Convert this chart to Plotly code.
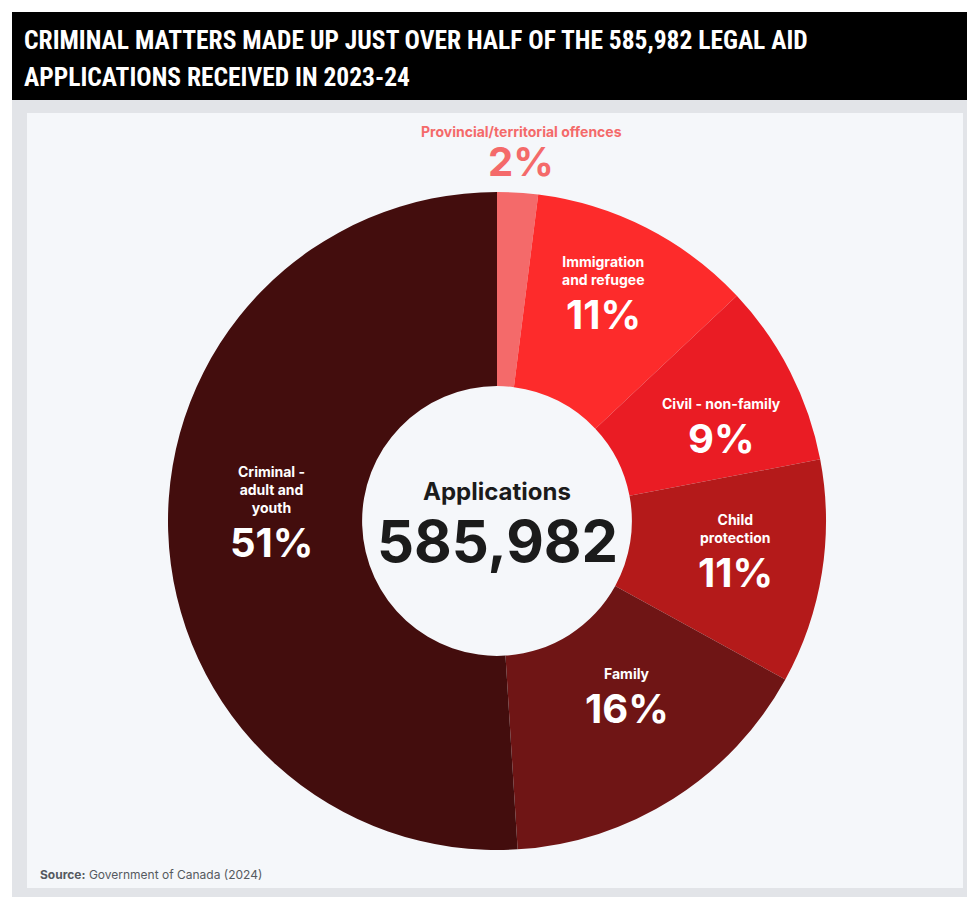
import math
import plotly.graph_objects as go

# ---- data ----
categories = ["Provincial/territorial offences", "Immigration and refugee", "Civil - non-family",
              "Child protection", "Family", "Criminal - adult and youth"]
label_lines = ["Provincial/territorial offences", "Immigration<br>and refugee", "Civil - non-family",
               "Child<br>protection", "Family", "Criminal -<br>adult and<br>youth"]
shares = [2, 11, 9, 11, 16, 51]
total_applications = 585982
title_lines = ["CRIMINAL MATTERS MADE UP JUST OVER HALF OF THE 585,982 LEGAL AID",
               "APPLICATIONS RECEIVED IN 2023-24"]
source_label = "Source:"
source_text = "Government of Canada (2024)"

# ---- styling ----
colors = ["#f46a6a", "#fd2b2b", "#ea1c24", "#b41a1a", "#6f1515", "#430d0d"]
W, H = 967, 897
CX, CY, R = 497, 521, 329
HOLE = 0.41
label_r = [None, 253, 248, 240, 210, 226]
label_da = [0, -2, 2, -2, -6, 2]

LABEL_FONT = "Inter, Roboto, sans-serif"
TITLE_FONT = "Roboto Condensed, Liberation Sans Narrow, sans-serif"


def px(x):
    return x / W


def py(y):
    return 1 - y / H


fig = go.Figure()
fig.add_trace(go.Pie(
    labels=categories,
    values=shares,
    hole=HOLE,
    sort=False,
    direction="clockwise",
    rotation=0,
    marker=dict(colors=colors, line=dict(width=0)),
    textinfo="none",
    hoverinfo="skip",
    showlegend=False,
    domain=dict(x=[px(CX - R), px(CX + R)], y=[py(CY + R), py(CY - R)]),
))

annotations = []
cum = 0
for i, (lab, v) in enumerate(zip(label_lines, shares)):
    mid = (cum + v / 2) / sum(shares) * 360
    cum += v
    if label_r[i] is None:
        continue
    ang = math.radians(mid + label_da[i])
    x = CX + label_r[i] * math.sin(ang)
    y = CY - label_r[i] * math.cos(ang)
    annotations.append(dict(x=px(x), y=py(y - 2), xref="paper", yref="paper",
                            text="<b>%s</b>" % lab, showarrow=False,
                            xanchor="center", yanchor="bottom",
                            font=dict(family=LABEL_FONT, size=14, color="white")))
    annotations.append(dict(x=px(x), y=py(y - 4), xref="paper", yref="paper",
                            text="<b>%d%%</b>" % v, showarrow=False,
                            xanchor="center", yanchor="top",
                            font=dict(family=LABEL_FONT, size=40, color="white")))

annotations.append(dict(x=px(521), y=py(131), xref="paper", yref="paper",
                        text="<b>%s</b>" % label_lines[0], showarrow=False,
                        xanchor="center", yanchor="middle",
                        font=dict(family=LABEL_FONT, size=14, color=colors[0])))
annotations.append(dict(x=px(521), y=py(161), xref="paper", yref="paper",
                        text="<b>%d%%</b>" % shares[0], showarrow=False,
                        xanchor="center", yanchor="middle",
                        font=dict(family=LABEL_FONT, size=40, color=colors[0])))

annotations.append(dict(x=px(CX), y=py(491), xref="paper", yref="paper",
                        text="<b>Applications</b>", showarrow=False,
                        xanchor="center", yanchor="middle",
                        font=dict(family=LABEL_FONT, size=24, color="#1b1b1b")))
annotations.append(dict(x=px(CX), y=py(541), xref="paper", yref="paper",
                        text="<b>{:,}</b>".format(total_applications), showarrow=False,
                        xanchor="center", yanchor="middle",
                        font=dict(family=LABEL_FONT, size=58, color="#1b1b1b")))

for j, t in enumerate(title_lines):
    annotations.append(dict(x=px(22), y=py(40 + 37 * j), xref="paper", yref="paper",
                            text="<b>%s</b>" % t, showarrow=False,
                            xanchor="left", yanchor="middle",
                            font=dict(family=TITLE_FONT, size=25.5, color="white")))

annotations.append(dict(x=px(38), y=py(874), xref="paper", yref="paper",
                        text="<b>%s</b> %s" % (source_label, source_text), showarrow=False,
                        xanchor="left", yanchor="middle",
                        font=dict(family=LABEL_FONT, size=12, color="#555a60")))

shapes = [
    dict(type="rect", xref="paper", yref="paper", x0=px(12), x1=1, y0=py(897), y1=py(100),
         fillcolor="#e2e4e8", line=dict(width=0), layer="below"),
    dict(type="rect", xref="paper", yref="paper", x0=px(27), x1=px(963), y0=py(888), y1=py(113),
         fillcolor="#f5f7fa", line=dict(width=0), layer="below"),
    dict(type="rect", xref="paper", yref="paper", x0=px(12), x1=1, y0=py(100), y1=py(12),
         fillcolor="#000000", line=dict(width=0), layer="below"),
]

fig.update_layout(
    width=W, height=H,
    margin=dict(l=0, r=0, t=0, b=0),
    paper_bgcolor="white",
    plot_bgcolor="white",
    annotations=annotations,
    shapes=shapes,
)

fig.write_html("out.html", config={"displayModeBar": False})
